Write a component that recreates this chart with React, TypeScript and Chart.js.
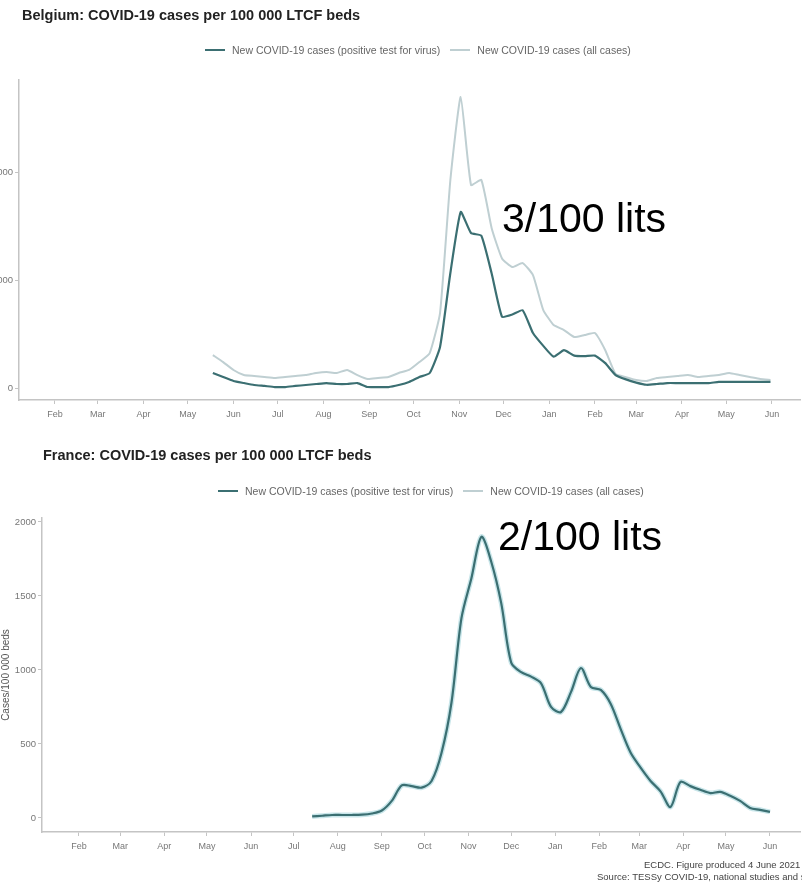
import React, { useEffect, useRef } from "react";
import { Chart, registerables } from "chart.js";

Chart.register(...registerables);

// ---------- data ----------
const monthLabels = ["Feb", "Mar", "Apr", "May", "Jun", "Jul", "Aug", "Sep", "Oct", "Nov", "Dec", "Jan", "Feb", "Mar", "Apr", "May", "Jun"];
// days since 2020-02-01 of each month start
const monthStartDays = [0, 29, 60, 90, 121, 151, 182, 213, 243, 274, 304, 335, 366, 394, 425, 455, 486];

const belgiumFirstWeekDay = 107; // week of 2020-05-18, weekly points after
const belgiumPositiveTest = [
  139, 102, 65, 46, 28, 19, 9, 9, 19, 28,
  37, 46, 37, 37, 46, 9, 9, 9, 28, 56,
  102, 139, 380, 1065, 1630, 1435, 1410, 1060, 660, 680,
  720, 509, 390, 290, 350, 300, 295, 300, 230, 120,
  80, 50, 30, 37, 46, 46, 46, 46, 46, 56,
  56, 56, 56, 56, 56,
];
const belgiumAllCases = [
  305, 240, 167, 120, 111, 102, 93, 102, 111, 120,
  139, 148, 139, 167, 120, 83, 93, 102, 139, 167,
  240, 324, 694, 1926, 2694, 1880, 1926, 1480, 1200, 1120,
  1157, 1046, 722, 583, 537, 472, 490, 509, 350, 130,
  100, 74, 65, 93, 102, 111, 120, 102, 111, 120,
  139, 120, 102, 83, 74,
];
const belgiumYTicks = [0, 1000, 2000];

const franceFirstWeekDay = 164; // week of 2020-07-14
const francePositiveTest = [
  10, 15, 20, 20, 20, 22, 30, 50, 115, 220,
  215, 205, 250, 440, 780, 1350, 1620, 1900, 1730, 1450,
  1050, 985, 955, 910, 750, 716, 850, 1013, 885, 865,
  770, 600, 440, 340, 250, 180, 74, 243, 215, 190,
  168, 176, 150, 115, 68, 55, 41,
];
const franceAllCases = [
  10, 15, 20, 20, 20, 22, 30, 50, 115, 220,
  215, 205, 250, 440, 780, 1350, 1620, 1900, 1730, 1450,
  1050, 985, 955, 910, 750, 716, 850, 1013, 885, 865,
  770, 600, 440, 340, 250, 180, 74, 243, 215, 190,
  168, 176, 150, 115, 68, 55, 41,
];
const franceYTicks = [0, 500, 1000, 1500, 2000];

const legendLabels = ["New COVID-19 cases (positive test for virus)", "New COVID-19 cases (all cases)"];

// ---------- styles ----------
const FONT = '"Liberation Sans", Arial, Helvetica, sans-serif';
const DARK = "#3b6f72";
const LIGHT = "#bfcfd2";
const LIGHT_FR = "#c9e6ea";
const AXIS = "#c4c4c4";

type ChartCfg = {
  firstDay: number;
  positive: number[];
  all: number[];
  yTicks: number[];
  xMin: number;
  xMax: number;
  yMin: number;
  yMax: number;
  yWidth: number;
  xHeight: number;
  padTop: number;
  yTitle?: string;
  lightColor: string;
  lightWidth: number;
  tension: number;
};

function LineChart({ cfg, width, height }: { cfg: ChartCfg; width: number; height: number }) {
  const ref = useRef<HTMLCanvasElement | null>(null);
  useEffect(() => {
    if (!ref.current) return;
    const toPts = (arr: number[]) => arr.map((v, i) => ({ x: cfg.firstDay + 7 * i, y: v }));
    const chart = new Chart(ref.current, {
      type: "line",
      data: {
        datasets: [
          {
            label: legendLabels[0],
            data: toPts(cfg.positive),
            borderColor: DARK,
            borderWidth: 2.2,
            pointRadius: 0,
            tension: cfg.tension,
            borderJoinStyle: "round",
            fill: false,
          },
          {
            label: legendLabels[1],
            data: toPts(cfg.all),
            borderColor: cfg.lightColor,
            borderWidth: cfg.lightWidth,
            pointRadius: 0,
            tension: cfg.tension,
            borderJoinStyle: "round",
            fill: false,
          },
        ],
      },
      options: {
        responsive: false,
        animation: false,
        devicePixelRatio: 1,
        layout: { padding: { top: cfg.padTop, right: 2, left: 0, bottom: 0 } },
        plugins: { legend: { display: false }, title: { display: false }, tooltip: { enabled: false } },
        scales: {
          x: {
            type: "linear",
            min: cfg.xMin,
            max: cfg.xMax,
            afterBuildTicks: (s: any) => {
              s.ticks = monthStartDays.map((v) => ({ value: v }));
            },
            afterFit: (s: any) => {
              s.height = cfg.xHeight;
            },
            grid: { display: true, drawOnChartArea: false, drawTicks: true, tickLength: 4, color: AXIS },
            border: { display: true, color: AXIS, width: 1.5 },
            ticks: {
              autoSkip: false,
              maxRotation: 0,
              padding: 5,
              color: "#777",
              font: { family: FONT, size: 9 },
              callback: (_v: any, i: number) => monthLabels[i],
            },
          },
          y: {
            type: "linear",
            min: cfg.yMin,
            max: cfg.yMax,
            afterBuildTicks: (s: any) => {
              s.ticks = cfg.yTicks.map((v) => ({ value: v }));
            },
            afterFit: (s: any) => {
              s.width = cfg.yWidth;
            },
            grid: { display: true, drawOnChartArea: false, drawTicks: true, tickLength: 4, color: AXIS },
            border: { display: true, color: AXIS, width: 1.5 },
            ticks: {
              padding: 2,
              color: "#777",
              font: { family: FONT, size: 9.5 },
              callback: (v: any) => String(v),
            },
            title: cfg.yTitle
              ? { display: true, text: cfg.yTitle, color: "#555", font: { family: FONT, size: 10 }, padding: 0 }
              : { display: false },
          },
        },
      },
    } as any);
    return () => chart.destroy();
  }, [cfg]);
  return <canvas ref={ref} width={width} height={height} style={{ width, height, display: "block" }} />;
}

function Legend({ left, top }: { left: number; top: number }) {
  const item = (color: string, text: string, gap: number) => (
    <span style={{ display: "inline-flex", alignItems: "center", marginRight: gap }}>
      <span style={{ display: "inline-block", width: 20, height: 0, borderTop: `2.5px solid ${color}`, marginRight: 7 }} />
      <span>{text}</span>
    </span>
  );
  return (
    <div
      style={{
        position: "absolute",
        left,
        top,
        whiteSpace: "nowrap",
        fontFamily: FONT,
        fontSize: 10.5,
        lineHeight: "12px",
        color: "#666",
        display: "flex",
        alignItems: "center",
      }}
    >
      {item(DARK, legendLabels[0], 10)}
      {item(LIGHT, legendLabels[1], 0)}
    </div>
  );
}

const belgiumCfg: ChartCfg = {
  firstDay: belgiumFirstWeekDay,
  positive: belgiumPositiveTest,
  all: belgiumAllCases,
  yTicks: belgiumYTicks,
  xMin: -24.4,
  xMax: 505,
  yMin: -111,
  yMax: 2852,
  yWidth: 19,
  xHeight: 40,
  padTop: 80,
  lightColor: LIGHT,
  lightWidth: 2,
  tension: 0.15,
};

const franceCfg: ChartCfg = {
  firstDay: franceFirstWeekDay,
  positive: francePositiveTest,
  all: franceAllCases,
  yTicks: franceYTicks,
  xMin: -26,
  xMax: 507.1,
  yMin: -95,
  yMax: 2027,
  yWidth: 42,
  xHeight: 28,
  padTop: 78,
  yTitle: "Cases/100 000 beds",
  lightColor: LIGHT_FR,
  lightWidth: 5,
  tension: 0.3,
};

export default function App() {
  const titleStyle: React.CSSProperties = {
    position: "absolute",
    fontFamily: FONT,
    fontWeight: "bold",
    fontSize: 14.5,
    lineHeight: "16px",
    color: "#222",
    whiteSpace: "nowrap",
  };
  const noteStyle: React.CSSProperties = {
    position: "absolute",
    fontFamily: FONT,
    fontSize: 41,
    lineHeight: "41px",
    color: "#000",
    whiteSpace: "nowrap",
  };
  const footStyle: React.CSSProperties = {
    position: "absolute",
    fontFamily: FONT,
    fontSize: 9.5,
    lineHeight: "11px",
    color: "#444",
    whiteSpace: "nowrap",
  };
  return (
    <div style={{ position: "absolute", left: 0, top: 0, width: 802, height: 890, overflow: "hidden", background: "#fff" }}>
      <div style={{ position: "absolute", left: 0, top: 0 }}>
        <LineChart cfg={belgiumCfg} width={802} height={440} />
      </div>
      <div style={{ position: "absolute", left: 0, top: 440 }}>
        <LineChart cfg={franceCfg} width={802} height={420} />
      </div>
      <div style={{ ...titleStyle, left: 22, top: 7 }}>Belgium: COVID-19 cases per 100 000 LTCF beds</div>
      <Legend left={205} top={44} />
      <div style={{ ...titleStyle, left: 43, top: 447 }}>France: COVID-19 cases per 100 000 LTCF beds</div>
      <Legend left={218} top={485} />
      <div style={{ ...noteStyle, left: 502, top: 198 }}>3/100 lits</div>
      <div style={{ ...noteStyle, left: 498, top: 516 }}>2/100 lits</div>
      <div style={{ ...footStyle, left: 644, top: 859 }}>ECDC. Figure produced 4 June 2021</div>
      <div style={{ ...footStyle, left: 597, top: 871 }}>Source: TESSy COVID-19, national studies and surveys</div>
    </div>
  );
}
